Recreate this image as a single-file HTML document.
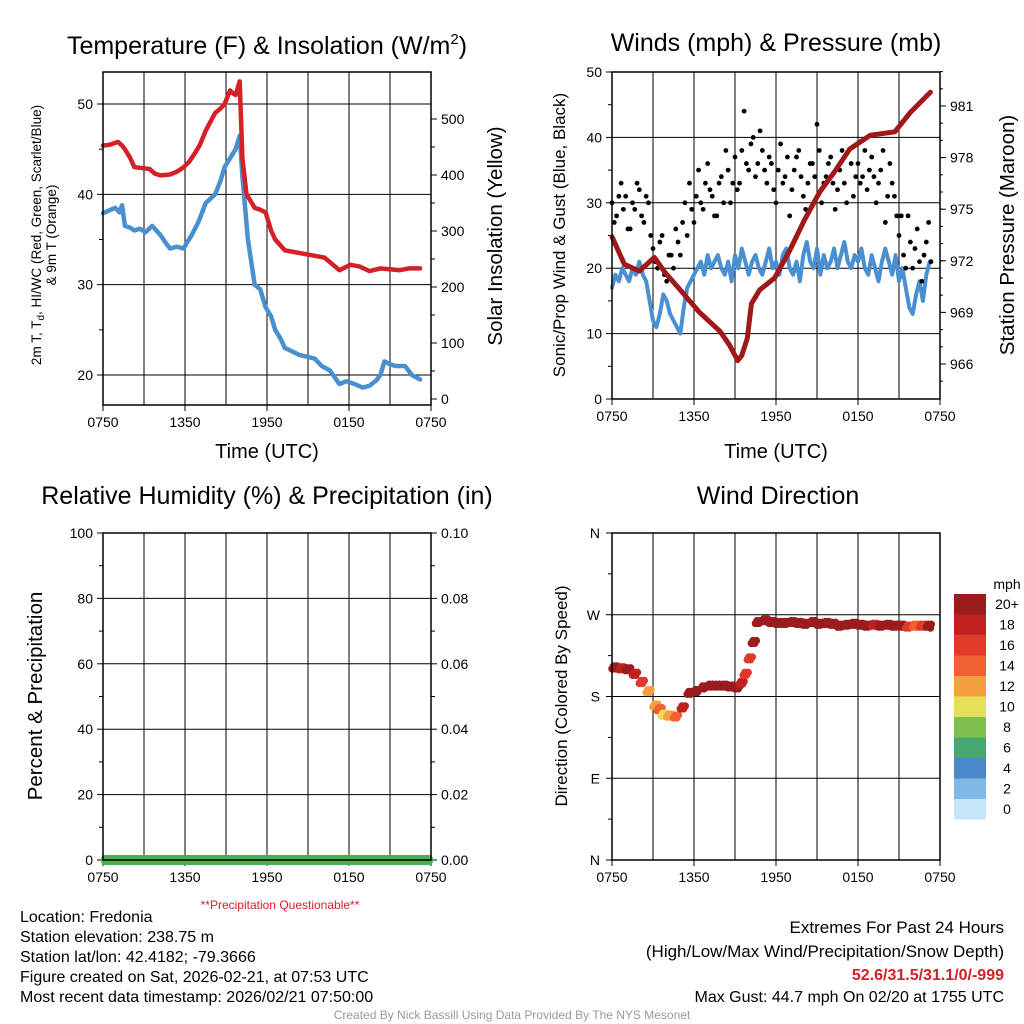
<!DOCTYPE html>
<html><head><meta charset="utf-8">
<style>
body{margin:0;background:#fff;}
svg{display:block;font-family:"Liberation Sans",sans-serif;}
</style></head>
<body>
<svg id="c" width="1024" height="1024" viewBox="0 0 1024 1024">
</svg>
<script>
// ---------- data ----------
const xTickLabels=["0750","1350","1950","0150","0750"];
const tempHours=[0,0.5,1.1,1.4,1.6,2.0,2.3,2.9,3.4,3.8,4.2,4.9,5.4,5.9,6.3,6.7,7.1,7.5,8.2,8.6,8.9,9.3,9.5,9.7,10.0,10.2,10.5,11.1,11.5,11.9,12.3,12.6,13.3,14.4,15.5,16.2,16.6,17.3,18.1,18.8,19.5,20.3,21.0,21.7,22.4,23.2];
const tempVals=[45.4,45.5,45.8,45.4,45,44,43,42.9,42.8,42.3,42.1,42.2,42.5,43,43.6,44.5,45.5,47,49,49.5,50,51.5,51.2,51,52.5,44,40,38.5,38.3,38,36,35,33.8,33.5,33.2,33.0,32.5,31.6,32.2,32,31.5,31.8,31.7,31.6,31.8,31.8];
const chillHours=[0,0.4,0.9,1.2,1.4,1.6,2.0,2.3,2.7,3.1,3.6,3.9,4.2,4.6,4.9,5.4,5.9,6.2,6.5,7.0,7.5,8.2,8.6,8.9,9.3,9.7,10.0,10.2,10.6,11.1,11.5,11.9,12.3,12.6,13.0,13.3,14.4,15.0,15.5,16.0,16.6,17.3,17.8,18.4,19.0,19.5,20.0,20.3,20.6,21.0,21.4,22.1,22.6,23.2];
const chillVals=[37.9,38.2,38.5,38.0,38.8,36.5,36.3,36,36.2,35.8,36.5,36.0,35.5,34.6,34,34.2,34,34.8,35.5,37,39,40,41.5,43,44,45,46.5,42,35,30,29.5,27.5,26.5,25,24,23,22.2,22.0,21.8,21.0,20.5,19,19.3,19,18.6,18.8,19.4,20,21.5,21.2,21,21,20,19.5];
const windVals=[17,19,18,20,19,18,20,19,21,19,18,15,12,11,13,16,15,13,12,11,10,14,17,18,19,20,21,19,22,20,21,22,20,19,21,18,22,20,23,21,19,21,22,20,19,21,23,20,21,19,22,23,20,19,21,18,22,24,21,20,23,19,22,20,21,23,20,22,24,21,20,22,21,23,20,19,22,20,18,21,23,21,19,22,18,20,17,14,13,16,18,15,19,21];
const gustVals=[30,27,28,31,33,29,31,26,26,30,29,33,32,28,27,31,30,25,23,21,20,24,25,19,18,22,22,20,26,24,22,27,30,25,33,29,27,31,35,30,29,33,36,32,31,28,28,33,34,30,38,35,30,33,37,32,33,38,44,36,35,39,40,34,36,41,38,35,33,37,36,32,30,35,39,33,34,37,28,32,35,37,38,34,31,29,33,36,36,34,42,38,30,33,34,36,37,33,29,32,35,38,33,30,38,36,31,34,36,33,34,38,32,35,37,34,30,33,35,38,27,31,36,33,31,28,25,28,22,20,28,24,20,23,26,21,18,22,24,27,21];
const presHours=[0,0.9,2.0,3.1,3.9,5.0,6.4,7.9,8.6,9.2,9.5,9.9,10.2,10.8,11.9,13.0,14.1,15.2,16.3,17.4,18.9,20.7,21.8,23.3];
const presVals=[973.4,971.8,971.4,972.2,971.3,970.3,969.0,967.9,967.1,966.2,966.5,967.5,969.5,970.3,971,972.6,974.4,976,977.2,978.5,979.3,979.5,980.6,981.8];
const dirHours=[0,0.5,1,1.5,2,2.5,3,3.3,3.6,4,4.5,5,5.5,6,6.5,7,7.5,8,8.5,9,9.3,9.6,9.9,10.2,10.5,11,11.5,12,12.5,13,13.5,14,14.5,15,15.5,16,16.5,17,17.5,18,18.5,19,19.5,20,20.5,21,21.5,22,22.5,23,23.3];
const dirVals=[212,211,210,205,196,186,170,166,160,159,158,168,184,186,190,192,192,192,191,190,195,205,222,240,262,264,262,261,261,262,261,260,262,260,261,260,258,259,260,259,258,259,258,259,258,258,257,258,258,258,257];
const dirSpeed=[20,19,20,18,16,12,12,14,10,12,14,18,20,20,20,20,20,20,20,20,18,16,16,20,20,20,20,20,20,20,20,20,20,20,20,20,20,20,20,20,20,18,20,20,20,20,16,14,16,20,20];
const cbLabels=["20+","18","16","14","12","10","8","6","4","2","0"];
const cbColors=["#9b1c1c","#c0201f","#e03a2a","#f06030","#f5a040","#e6df5c","#7ec050","#44a870","#4a88c8","#80b8e8","#c4e6f8"];

// ---------- helpers ----------
const svg=document.getElementById('c');
const NS="http://www.w3.org/2000/svg";
function el(t,a,p){const e=document.createElementNS(NS,t);for(const k in a)e.setAttribute(k,a[k]);(p||svg).appendChild(e);return e;}
function txt(x,y,s,size,anchor,p,extra){const e=el('text',Object.assign({x:x,y:y,'font-size':size,'text-anchor':anchor||'middle',fill:'#000'},extra||{}),p);e.textContent=s;return e;}
function lin(d0,d1,r0,r1){return v=>r0+(v-d0)*(r1-r0)/(d1-d0);}
function speedColor(s){const i=Math.max(0,Math.min(10,10-Math.floor(s/2)));return cbColors[i];}

function frame(x0,x1,y0,y1,name){
  const g=el('g',{});
  
  
  const xs=lin(0,24,x0,x1);
  for(let h=3;h<24;h+=3){el('line',{x1:xs(h),x2:xs(h),y1:y0,y2:y1,stroke:'#000','stroke-width':1},g);}
  for(let i=0;i<5;i++){const x=xs(i*6);el('line',{x1:x,x2:x,y1:y1,y2:y1+6,stroke:'#000'},g);
    const t=txt(x,y1+22,xTickLabels[i],14,'middle',g);}
  return {g,xs};
}
function border(x0,x1,y0,y1){el('rect',{x:x0,y:y0,width:x1-x0,height:y1-y0,fill:'none',stroke:'#000','stroke-width':1.5});}
function line(xs,ys,hrs,vals,color,w,name){
  const pts=hrs.map((h,i)=>xs(h).toFixed(1)+','+ys(vals[i]).toFixed(1)).join(' ');
  const p=el('polyline',{points:pts,fill:'none',stroke:color,'stroke-width':w,'stroke-linejoin':'round','stroke-linecap':'round'});
  
  
}

// ---------- panel 1 ----------
(function(){
  const X0=103,X1=431,Y0=72,Y1=405;
  const {g,xs}=frame(X0,X1,Y0,Y1,'temperature-panel');
  const ys=lin(20,50,375,104);
  const yi=lin(0,500,399,119);
  [20,30,40,50].forEach(v=>{el('line',{x1:X0,x2:X1,y1:ys(v),y2:ys(v),stroke:'#000'});el('line',{x1:X0-6,x2:X0,y1:ys(v),y2:ys(v),stroke:'#000'});const t=txt(X0-10,ys(v)+5,v,14,'end');});
  [25,35,45].forEach(v=>el('line',{x1:X0-4,x2:X0,y1:ys(v),y2:ys(v),stroke:'#000'}));
  [0,100,200,300,400,500].forEach(v=>{el('line',{x1:X1,x2:X1+6,y1:yi(v),y2:yi(v),stroke:'#000'});txt(X1+10,yi(v)+5,v,14,'start');});
  [50,150,250,350,450].forEach(v=>el('line',{x1:X1,x2:X1+4,y1:yi(v),y2:yi(v),stroke:'#000'}));
  line(xs,ys,chillHours,chillVals,'#4a90d0',4.5,'windchill-line');
  line(xs,ys,tempHours,tempVals,'#d42027',4.5,'temperature-line');
  border(X0,X1,Y0,Y1);
  const t=el('text',{x:267,y:54,'font-size':25,'text-anchor':'middle'});t.innerHTML='Temperature (F) &amp; Insolation (W/m<tspan font-size="15" dy="-10">2</tspan><tspan dy="10">)</tspan>';
  
  txt(267,458,'Time (UTC)',20);
  const yl=el('text',{transform:'translate(41,235) rotate(-90)','font-size':13.5,'text-anchor':'middle'});yl.innerHTML='2m T, T<tspan font-size="10" dy="3">d</tspan><tspan dy="-3">, HI/WC (Red, Green, Scarlet/Blue)</tspan>';
  
  txt(0,0,'& 9m T (Orange)',13.5,'middle',null,{transform:'translate(56,235) rotate(-90)'});
  txt(0,0,'Solar Insolation (Yellow)',20.5,'middle',null,{transform:'translate(502,236) rotate(-90)'});
})();

// ---------- panel 2 ----------
(function(){
  const X0=612,X1=940,Y0=72,Y1=399;
  const {g,xs}=frame(X0,X1,Y0,Y1,'winds-panel');
  const ys=lin(0,50,399,72);
  const yp=lin(966,981,364,106);
  [0,10,20,30,40,50].forEach(v=>{if(v>0&&v<50)el('line',{x1:X0,x2:X1,y1:ys(v),y2:ys(v),stroke:'#000'});el('line',{x1:X0-6,x2:X0,y1:ys(v),y2:ys(v),stroke:'#000'});txt(X0-10,ys(v)+5,v,14,'end');});
  [5,15,25,35,45].forEach(v=>el('line',{x1:X0-4,x2:X0,y1:ys(v),y2:ys(v),stroke:'#000'}));
  [966,969,972,975,978,981].forEach(v=>{el('line',{x1:X1,x2:X1+6,y1:yp(v),y2:yp(v),stroke:'#000'});txt(X1+10,yp(v)+5,v,14,'start');});
  for(let v=965;v<=983;v++)el('line',{x1:X1,x2:X1+3,y1:yp(v),y2:yp(v),stroke:'#000'});
  const windHours=windVals.map((v,i)=>i*0.25);
  line(xs,ys,windHours,windVals,'#4a90d0',4,'wind-line');
  gustVals.forEach((v,i)=>{const c=el('circle',{cx:xs(i/6),cy:ys(v),r:2.4,fill:'#000'});
    
    });
  line(xs,yp,presHours,presVals,'#a01818',5,'pressure-line');
  border(X0,X1,Y0,Y1);
  txt(776,51,'Winds (mph) & Pressure (mb)',25);
  txt(776,458,'Time (UTC)',20);
  txt(0,0,'Sonic/Prop Wind & Gust (Blue, Black)',17,'middle',null,{transform:'translate(565,235) rotate(-90)'});
  txt(0,0,'Station Pressure (Maroon)',20.5,'middle',null,{transform:'translate(1014,235) rotate(-90)'});
})();

// ---------- panel 3 ----------
(function(){
  const X0=103,X1=431,Y0=533,Y1=860;
  frame(X0,X1,Y0,Y1,'humidity-panel');
  const ys=lin(0,100,860,533);
  [0,20,40,60,80,100].forEach(v=>{if(v>0&&v<100)el('line',{x1:X0,x2:X1,y1:ys(v),y2:ys(v),stroke:'#000'});el('line',{x1:X0-6,x2:X0,y1:ys(v),y2:ys(v),stroke:'#000'});txt(X0-10,ys(v)+5,v,14,'end');
    el('line',{x1:X1,x2:X1+6,y1:ys(v),y2:ys(v),stroke:'#000'});txt(X1+10,ys(v)+5,(v/1000).toFixed(2),14,'start');});
  [10,30,50,70,90].forEach(v=>{el('line',{x1:X0-4,x2:X0,y1:ys(v),y2:ys(v),stroke:'#000'});el('line',{x1:X1,x2:X1+4,y1:ys(v),y2:ys(v),stroke:'#000'});});
  const b=el('rect',{x:X0-2,y:855,width:X1-X0+4,height:10,rx:4,fill:'#4caf50'});
  
  border(X0,X1,Y0,Y1);
  txt(267,504,'Relative Humidity (%) & Precipitation (in)',25);
  txt(280,909,'**Precipitation Questionable**',12,'middle',null,{fill:'#d42027'});
  txt(0,0,'Percent & Precipitation',20.5,'middle',null,{transform:'translate(42,696) rotate(-90)'});
})();

// ---------- panel 4 ----------
(function(){
  const X0=612,X1=940,Y0=533,Y1=860;
  const {xs}=frame(X0,X1,Y0,Y1,'direction-panel');
  const ys=lin(0,360,860,533);
  const lab=['N','E','S','W','N'];
  [0,90,180,270,360].forEach((v,i)=>{if(v>0&&v<360)el('line',{x1:X0,x2:X1,y1:ys(v),y2:ys(v),stroke:'#000'});el('line',{x1:X0-6,x2:X0,y1:ys(v),y2:ys(v),stroke:'#000'});txt(X0-12,ys(v)+5,lab[i],14,'end');});
  [45,135,225,315].forEach(v=>el('line',{x1:X0-4,x2:X0,y1:ys(v),y2:ys(v),stroke:'#000'}));
  dirVals.forEach((v,i)=>{
    for(let k=0;k<4;k++){
      const hh=dirHours[i]+k*0.12; if(hh>23.4)continue;
      const c=el('circle',{cx:xs(hh),cy:ys(v+(k%2?1.5:-1.5)),r:3.8,fill:speedColor(dirSpeed[i])});
      
      
    }});
  border(X0,X1,Y0,Y1);
  txt(778,504,'Wind Direction',25);
  txt(0,0,'Direction (Colored By Speed)',17,'middle',null,{transform:'translate(567,696) rotate(-90)'});
  txt(1007,589,'mph',14);
  cbLabels.forEach((l,i)=>{const r=el('rect',{x:954,y:594+i*20.5,width:32,height:20.5,fill:cbColors[i]});
    
    txt(1007,609+i*20.5,l,14);});
})();

// ---------- footer ----------
const foot=["Location: Fredonia","Station elevation: 238.75 m","Station lat/lon: 42.4182; -79.3666","Figure created on Sat, 2026-02-21, at 07:53 UTC","Most recent data timestamp: 2026/02/21 07:50:00"];
foot.forEach((s,i)=>{const t=txt(20,922+i*20,s,16,'start');});
txt(1004,933,'Extremes For Past 24 Hours',17,'end');
txt(1004,957,'(High/Low/Max Wind/Precipitation/Snow Depth)',17,'end');
txt(1004,980,'52.6/31.5/31.1/0/-999',16,'end',null,{fill:'#d42027','font-weight':'bold'});
txt(1004,1002,'Max Gust: 44.7 mph On 02/20 at 1755 UTC',16,'end');
txt(512,1019,'Created By Nick Bassill Using Data Provided By The NYS Mesonet',12,'middle',null,{fill:'#999'});
</script>
</body></html>
